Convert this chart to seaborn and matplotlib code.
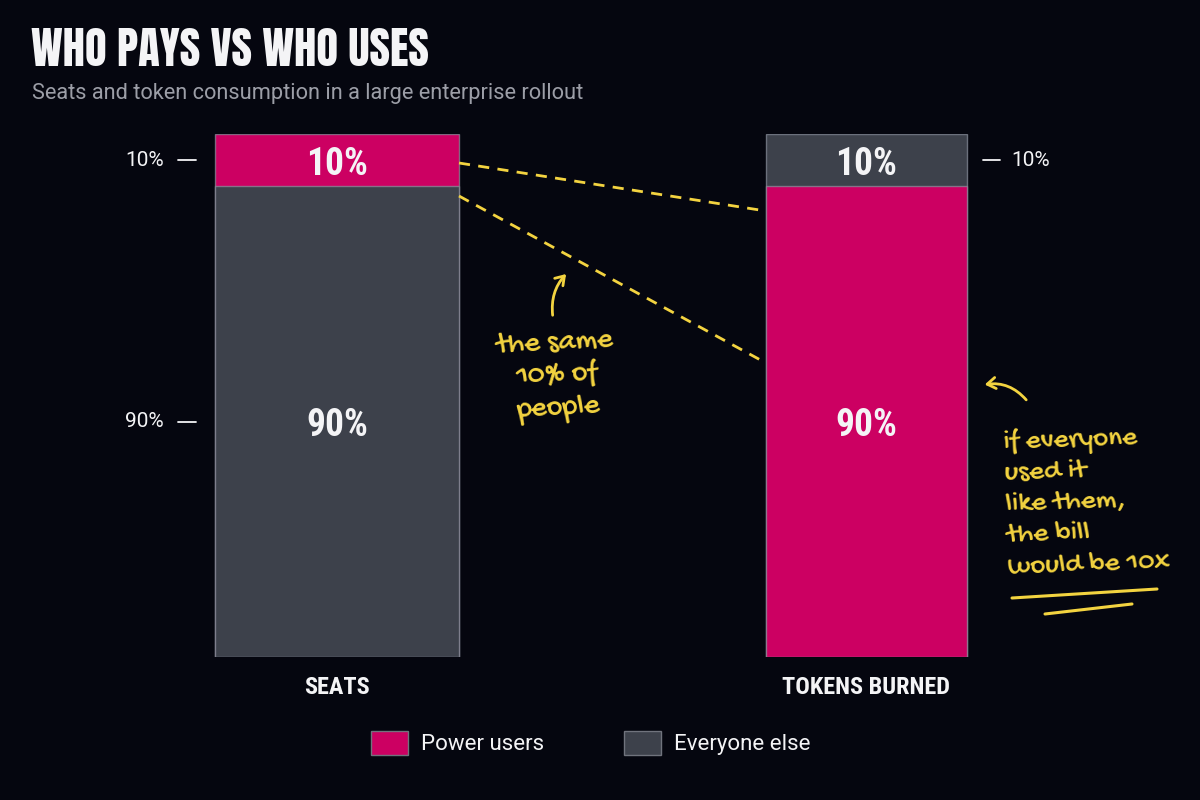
import matplotlib
matplotlib.use("Agg")
import matplotlib.pyplot as plt
import seaborn as sns
import pandas as pd
from matplotlib.patches import FancyArrowPatch, Patch
from matplotlib.lines import Line2D
from matplotlib.transforms import blended_transform_factory
from matplotlib import font_manager

# ---------------- data ----------------
categories = ["SEATS", "TOKENS BURNED"]
power_users = [10, 90]
everyone_else = [90, 10]
series_names = ["Power users", "Everyone else"]
title = "WHO PAYS VS WHO USES"
subtitle = "Seats and token consumption in a large enterprise rollout"
note_left = "the same\n10% of\npeople"
note_right = "if everyone\nused it\nlike them,\nthe bill\nwould be 10x"

# ---------------- style ----------------
BG = "#05060f"
PINK = "#cc0062"
GREY = "#3d414b"
YELLOW = "#f3d340"
WHITE = "#f4f4f6"
SUB = "#9c9ea7"
EDGE = "#70737d"

sns.set_theme(style="dark")
plt.rcParams["font.family"] = ["Roboto", "DejaVu Sans"]

names = {f.name for f in font_manager.fontManager.ttflist}
def pick(cands):
    for c in cands:
        if c in names:
            return c
    return "DejaVu Sans"

TITLE_F = pick(["Anton", "Bebas Neue", "Oswald", "Roboto Condensed"])
COND_F = pick(["Roboto Condensed", "Barlow Condensed", "Open Sans Condensed"])
HAND_F = pick(["Gochi Hand", "Patrick Hand", "Kalam", "Caveat", "Indie Flower"])

COND = dict(family=[COND_F, "DejaVu Sans"], fontweight="bold")
HAND = dict(family=[HAND_F, "DejaVu Sans"], color=YELLOW)

W, H = 1200, 800
fig = plt.figure(figsize=(12, 8), dpi=100, facecolor=BG)
ax = fig.add_axes([0, (H - 657) / H, 1, (657 - 134) / H])
ax.set_facecolor("none")

centers_px = [337, 866.5]
widths_px = [244, 201]
scale = centers_px[1] - centers_px[0]

colors = {series_names[0]: PINK, series_names[1]: GREY}
totals = [p + e for p, e in zip(power_users, everyone_else)]
bottom_series = [series_names[0] if p > e else series_names[1]
                 for p, e in zip(power_users, everyone_else)]
top_series = [series_names[1] if b == series_names[0] else series_names[0]
              for b in bottom_series]
bottom_vals = [max(p, e) for p, e in zip(power_users, everyone_else)]
top_vals = [min(p, e) for p, e in zip(power_users, everyone_else)]

df_total = pd.DataFrame({"cat": categories, "val": totals})
df_bottom = pd.DataFrame({"cat": categories, "val": bottom_vals})

sns.barplot(data=df_total, x="cat", y="val", hue="cat",
            palette=[colors[s] for s in top_series], legend=False,
            ax=ax, edgecolor=EDGE, linewidth=1.0, saturation=1, width=0.8)
sns.barplot(data=df_bottom, x="cat", y="val", hue="cat",
            palette=[colors[s] for s in bottom_series], legend=False,
            ax=ax, edgecolor=EDGE, linewidth=1.0, saturation=1, width=0.8)

for p in ax.patches:
    c = p.get_x() + p.get_width() / 2
    i = int(round(c))
    w = widths_px[i] / scale
    p.set_x(i - w / 2)
    p.set_width(w)
    p.set_edgecolor((0.55, 0.57, 0.62, 0.7))

ax.set_xlim(-centers_px[0] / scale, 1 + (W - centers_px[1]) / scale)
ax.set_ylim(0, 100)
for s in ax.spines.values():
    s.set_visible(False)
ax.set_yticks([])
ax.set_xlabel("")
ax.set_ylabel("")
ax.tick_params(axis="x", length=0, pad=14, colors=WHITE)
ax.set_xticks(range(len(categories)))
ax.set_xticklabels(categories, fontsize=17.5, color=WHITE, **COND)
ax.grid(False)

for i in range(len(categories)):
    ax.text(i, bottom_vals[i] / 2, f"{bottom_vals[i]}%", ha="center", va="center_baseline",
            fontsize=27, color=WHITE, **COND)
    ax.text(i, bottom_vals[i] + top_vals[i] / 2, f"{top_vals[i]}%", ha="center",
            va="center_baseline", fontsize=27, color=WHITE, **COND)

bt = blended_transform_factory(fig.transFigure, ax.transData)
left_vals = [bottom_vals[0] + top_vals[0] / 2, bottom_vals[0] / 2]
left_txt = [f"{top_vals[0]}%", f"{bottom_vals[0]}%"]
for y, t in zip(left_vals, left_txt):
    ax.text(164 / W, y, t, transform=bt, ha="right", va="center",
            fontsize=15, color=WHITE)
    ax.add_line(Line2D([178 / W, 196 / W], [y, y], transform=bt, color=WHITE, lw=1.3))
yr = bottom_vals[1] + top_vals[1] / 2
ax.text(1011 / W, yr, f"{top_vals[1]}%", transform=bt, ha="left", va="center",
        fontsize=15, color=WHITE)
ax.add_line(Line2D([983 / W, 1000 / W], [yr, yr], transform=bt, color=WHITE, lw=1.3))

def fp(x, y):
    return (x / W, 1 - y / H)

for (x0, y0), (x1, y1) in [((459, 163), (766, 211)), ((459, 196), (766, 363))]:
    a, b = fp(x0, y0), fp(x1, y1)
    fig.add_artist(Line2D([a[0], b[0]], [a[1], b[1]], transform=fig.transFigure,
                          color=YELLOW, lw=2, dashes=(4, 3)))

fig.text(31 / W, 1 - 66 / H, title, fontsize=32, color=WHITE, ha="left",
         va="baseline", family=[TITLE_F, "DejaVu Sans"])
fig.text(32 / W, 1 - 94 / H, subtitle, fontsize=15.7, color=SUB, ha="left", va="center")

fig.text(557 / W, 1 - 377 / H, note_left, ha="center", va="center", fontsize=22,
         linespacing=1.25, rotation=3, **HAND)
fig.text(1003 / W, 1 - 502 / H, note_right, ha="left", va="center", fontsize=21,
         linespacing=1.35, rotation=2, **HAND)

fig.add_artist(FancyArrowPatch(fp(553, 318), fp(568, 272), transform=fig.transFigure,
                               connectionstyle="arc3,rad=-0.25", arrowstyle="->,head_length=6,head_width=4",
                               color=YELLOW, lw=2))
fig.add_artist(FancyArrowPatch(fp(1028, 402), fp(982, 385), transform=fig.transFigure,
                               connectionstyle="arc3,rad=0.3", arrowstyle="->,head_length=6,head_width=4",
                               color=YELLOW, lw=2))
for (x0, y0), (x1, y1) in [((1012, 598), (1157, 589)), ((1045, 614), (1132, 604))]:
    a, b = fp(x0, y0), fp(x1, y1)
    fig.add_artist(Line2D([a[0], b[0]], [a[1], b[1]], transform=fig.transFigure,
                          color=YELLOW, lw=2.2, solid_capstyle="round"))

handles = [Patch(facecolor=colors[s], edgecolor=EDGE, linewidth=1) for s in series_names]
leg = fig.legend(handles, series_names, loc="center", bbox_to_anchor=(591 / W, 1 - 743 / H),
                 ncol=2, frameon=False, fontsize=16, handlelength=1.65, handleheight=1.35,
                 handletextpad=0.6, columnspacing=3.6)
for t in leg.get_texts():
    t.set_color(WHITE)

fig.savefig("out.png", dpi=100, facecolor=BG)
